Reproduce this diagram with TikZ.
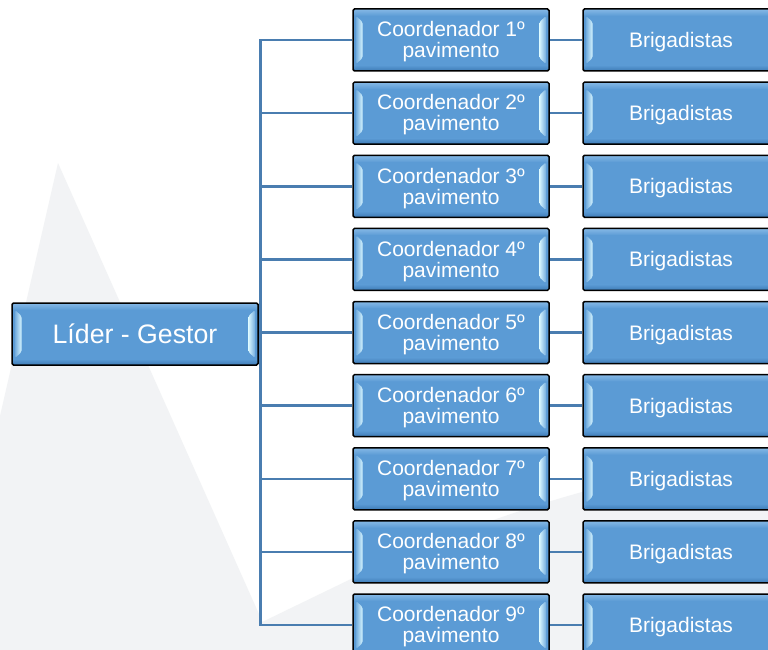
\documentclass[tikz,border=0pt]{standalone}
\usepackage{fontspec}
\setmainfont{Liberation Sans}
\usetikzlibrary{calc,backgrounds}
\definecolor{boxblue}{HTML}{5B9BD5}
\definecolor{boxtop}{HTML}{86B9E6}
\definecolor{boxbot}{HTML}{3E7BB6}
\definecolor{bevel}{HTML}{D6F5FF}
\definecolor{conncol}{HTML}{4A7DB0}
\definecolor{bggray}{HTML}{F2F3F5}
\tikzset{
  bevelbox/.style={draw=black, line width=1.5pt, rounded corners=1.5pt, fill=boxblue,
    text=white, align=center, minimum height=62pt, inner sep=0pt,
    path picture={
      \coordinate (pnw) at (path picture bounding box.north west);
      \coordinate (pne) at (path picture bounding box.north east);
      \coordinate (psw) at (path picture bounding box.south west);
      \coordinate (pse) at (path picture bounding box.south east);
      \fill[top color=boxtop, bottom color=boxblue] (pnw) rectangle ($(pne)+(0,-7pt)$);
      \fill[top color=boxblue, bottom color=boxbot] ($(psw)+(0,6pt)$) rectangle (pse);
      \fill[left color=boxblue!80!bevel, right color=bevel]
        ($(pnw)+(3pt,-7pt)$) -- ($(pnw)+(9.5pt,-13pt)$) -- ($(psw)+(9.5pt,13pt)$) -- ($(psw)+(3pt,7pt)$) -- cycle;
      \fill[left color=bevel, right color=boxblue!80!bevel]
        ($(pne)+(-9.5pt,-13pt)$) -- ($(pne)+(-3pt,-7pt)$) -- ($(pse)+(-3pt,7pt)$) -- ($(pse)+(-9.5pt,13pt)$) -- cycle;
    }},
  leaderbox/.style={bevelbox, minimum width=246pt, font=\fontsize{26.7}{30}\selectfont},
  coordbox/.style={bevelbox, minimum width=196pt, font=\fontsize{21}{21}\selectfont},
  brigbox/.style={bevelbox, minimum width=196pt, font=\fontsize{21}{21}\selectfont},
  conn/.style={draw=conncol, line width=2.5pt},
}
\begin{document}
\begin{tikzpicture}[x=1pt, y=-1pt]
  \clip (0,0) rectangle (768,650);

  \node[leaderbox] (L) at (135,334) {Líder - Gestor};
  \foreach \k in {1,...,9} {
    \pgfmathsetmacro{\yy}{40+73.125*(\k-1)}
    \node[coordbox] (c\k) at (451,\yy) {\rule{0pt}{19pt}Coordenador {\k}º\\pavimento};
    \node[brigbox] (b\k) at (681,\yy) {\rule{0pt}{19.5pt}Brigadistas};
  }
  \begin{scope}[on background layer]
    \fill[white] (0,0) rectangle (768,650);
    \fill[bggray] (58,163) -- (275,650) -- (0,650) -- (0,416) -- cycle;
    \fill[bggray] (258,624) -- (353,578) .. controls (520,500) and (650,470) .. (768,455) -- (768,650) -- (258,650) -- cycle;
    \coordinate (t) at ([xshift=1.5pt]L.east);
    \draw[conn] (L.east) -- (t);
    \draw[conn] (c1.west) -- (c1.west -| t) -- (c9.west -| t) -- (c9.west);
    \foreach \k in {2,...,8} {
      \draw[conn] (c\k.west) -- (c\k.west -| t);
    }
    \foreach \k in {1,...,9} {
      \draw[conn] (c\k.east) -- (b\k.west);
    }
  \end{scope}
\end{tikzpicture}
\end{document}
